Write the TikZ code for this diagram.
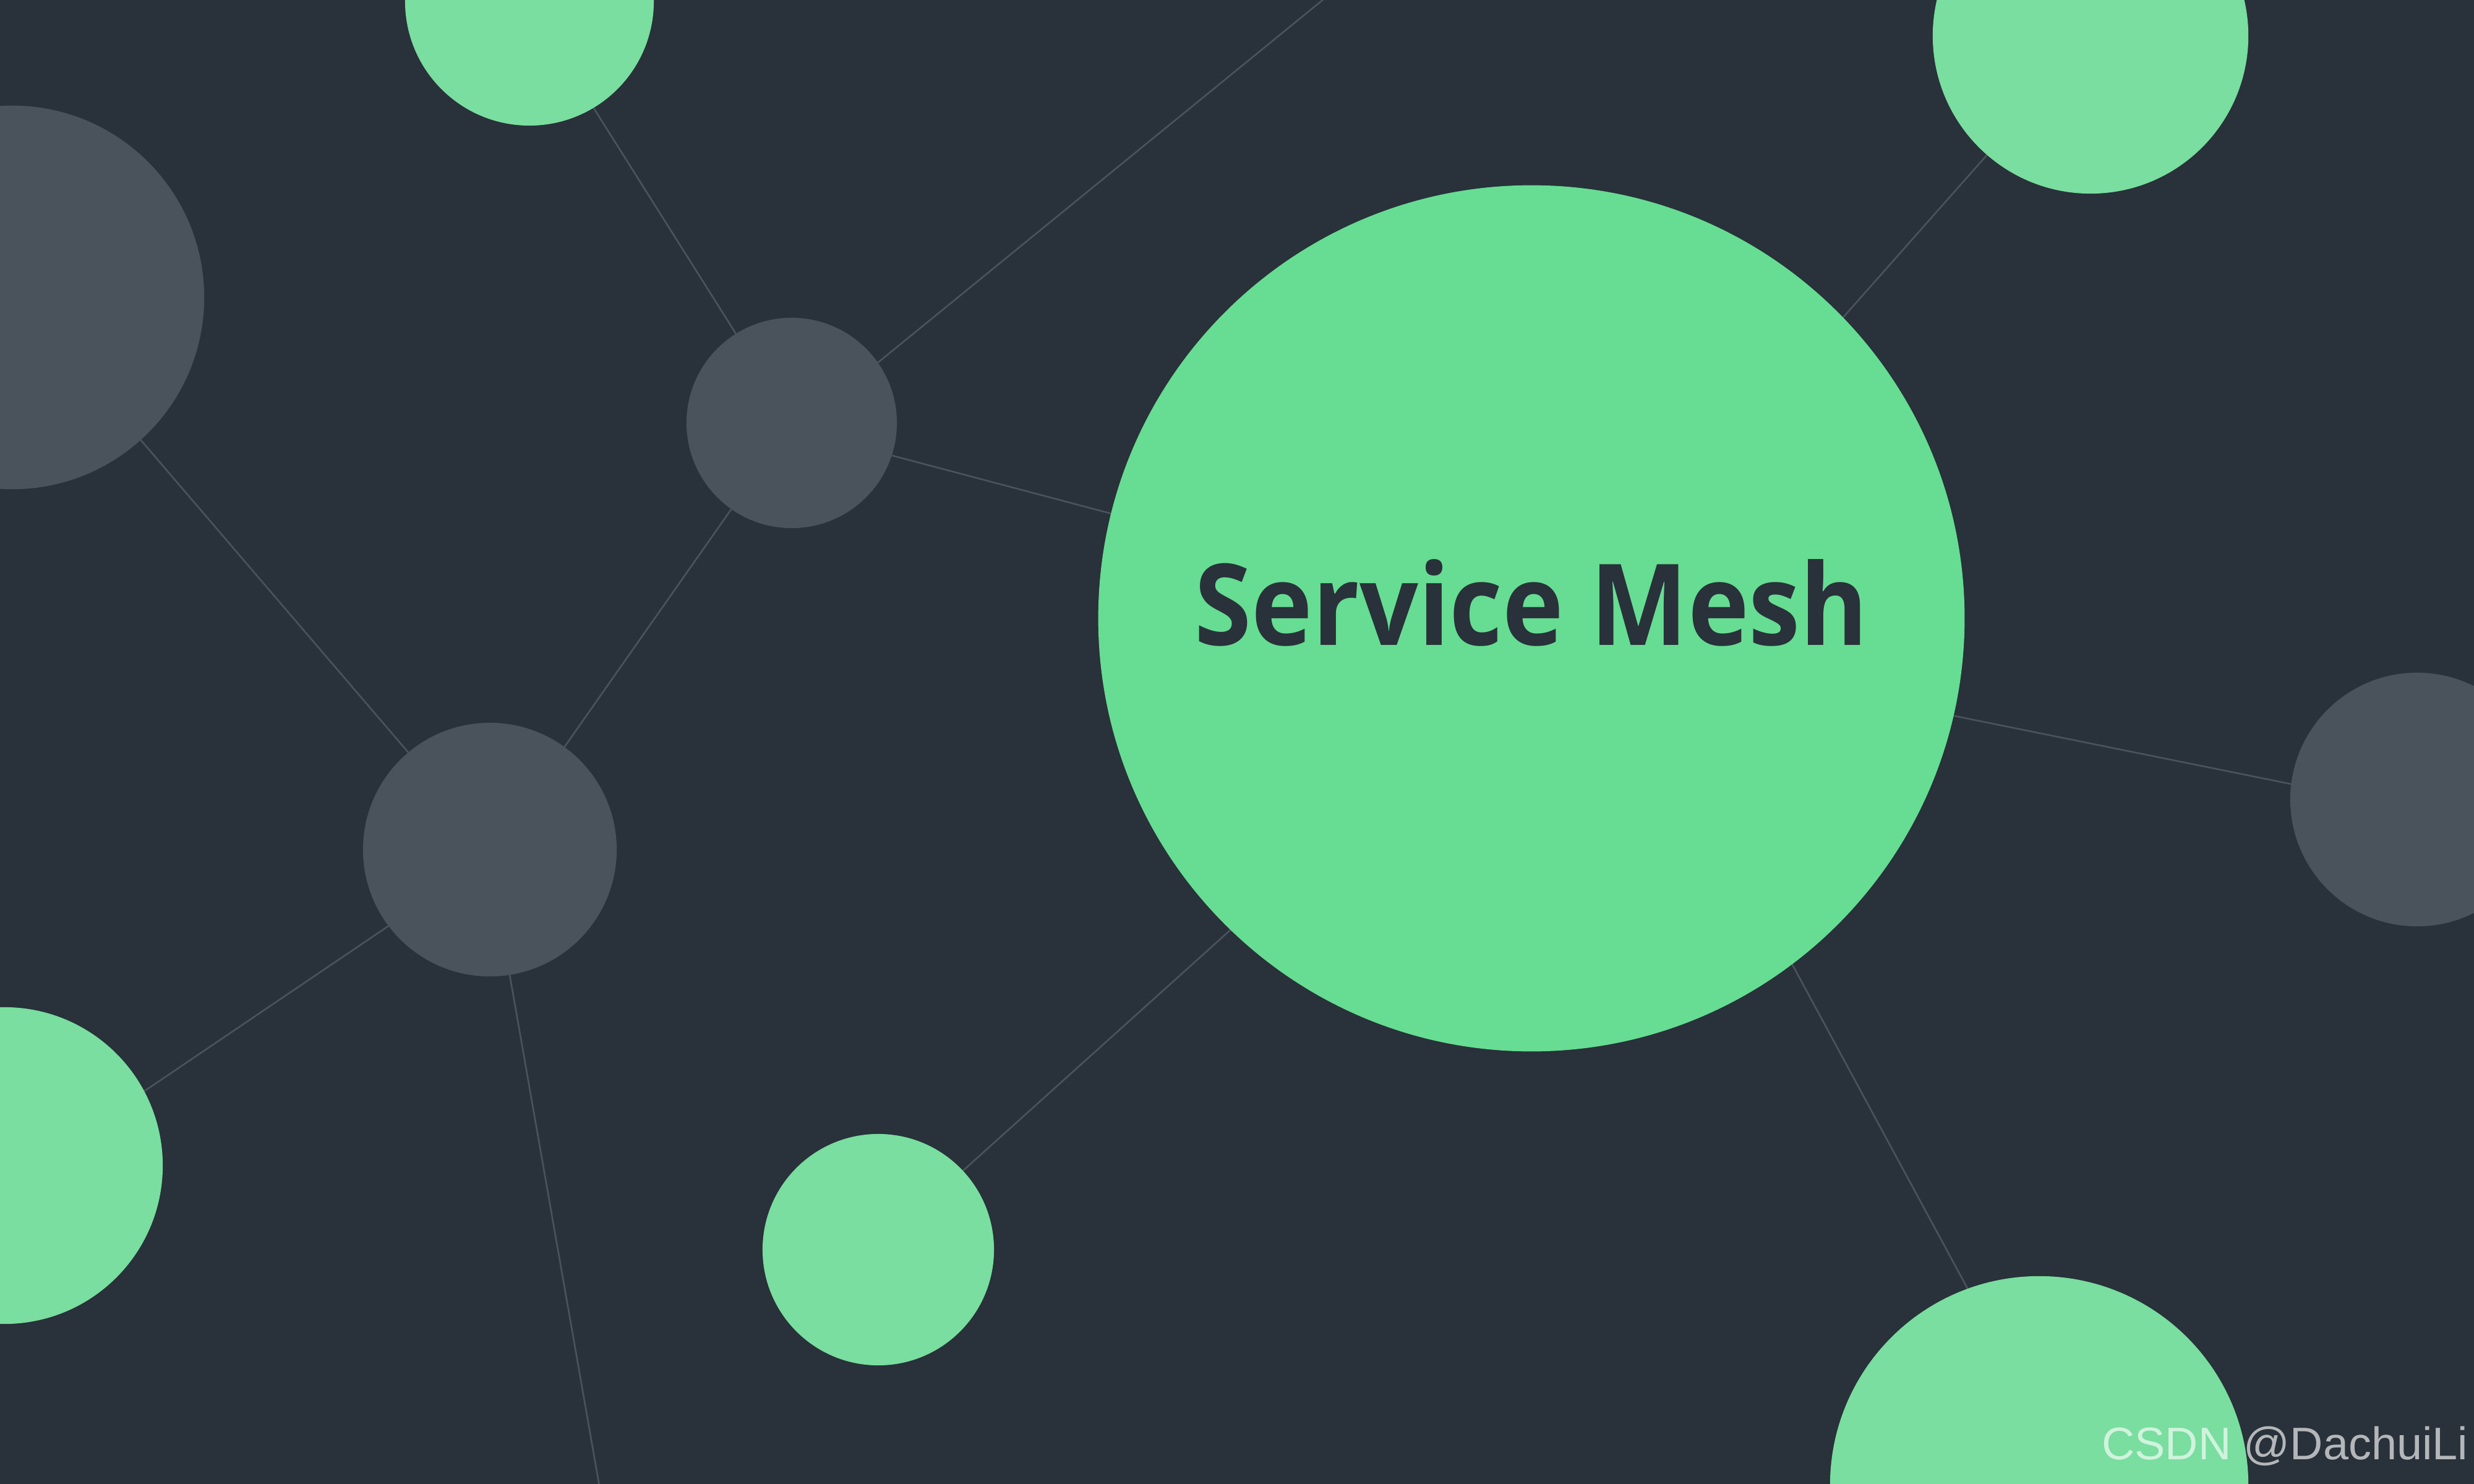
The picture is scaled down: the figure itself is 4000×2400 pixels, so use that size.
\documentclass[tikz,border=0pt]{standalone}
\usepackage{fontspec}
\setmainfont{Open Sans}
\newfontfamily\wmfont{Liberation Sans}
\definecolor{bgc}{HTML}{29313A}
\definecolor{biggreen}{HTML}{66DD92}
\definecolor{ltgreen}{HTML}{79DE9F}
\definecolor{graynode}{HTML}{4A525B}
\definecolor{linec}{HTML}{4A525C}
\pgfdeclarelayer{bglayer}
\pgfsetlayers{bglayer,main}
\tikzset{
  ball/.style={circle,inner sep=0pt,outer sep=0pt,draw=none},
  gball/.style={ball,fill=ltgreen},
  gyball/.style={ball,fill=graynode},
  link/.style={draw=linec,line width=0.75pt},
}
\begin{document}
\begin{tikzpicture}[x=0.01cm,y=-0.01cm]
\useasboundingbox (0,0) rectangle (4000,2400);
\begin{pgfonlayer}{bglayer}
\fill[bgc] (0,0) rectangle (4000,2400);
\end{pgfonlayer}
\node[ball,fill=biggreen,minimum size=14cm] (big) at (2476,1000) {};
\node[gball,minimum size=4.02cm] (tg) at (856,2) {};
\node[gyball,minimum size=6.2cm] (lg) at (20,481) {};
\node[gyball,minimum size=3.4cm] (sg) at (1280,684) {};
\node[gyball,minimum size=4.1cm] (gg) at (792,1374) {};
\node[gball,minimum size=5.12cm] (blg) at (7,1885) {};
\node[gball,minimum size=3.74cm] (bmg) at (1420,2021) {};
\node[gball,minimum size=5.1cm] (trg) at (3380,58) {};
\node[gyball,minimum size=4.1cm] (rg) at (3908,1293) {};
\node[gball,minimum size=6.76cm] (brg) at (3297,2402) {};
\coordinate (stop) at (2163,-20);
\coordinate (gbot) at (972,2420);
\begin{pgfonlayer}{bglayer}
\draw[link] (tg.-59.7) -- (sg.122.5);
\draw[link] (sg.35.8) -- (stop);
\draw[link] (sg.-18.6) -- (big.166.2);
\draw[link] (lg.-48.7) -- (gg.130.6);
\draw[link] (sg.-125) -- (gg.54.4);
\draw[link] (gg.-143.5) -- (blg.28.6);
\draw[link] (gg.-81.9) -- (gbot);
\draw[link] (bmg.43.1) -- (big.-134.7);
\draw[link] (big.44.8) -- (trg.-131.5);
\draw[link] (big.-13.7) -- (rg.173.6);
\draw[link] (big.-53.1) -- (brg.110.2);
\end{pgfonlayer}
\node[font=\bfseries\fontsize{52}{52}\selectfont,text=bgc,anchor=base,inner sep=0pt] (title) at (2476,1043) {\scalebox{0.913}[1]{Service Mesh}};
\node[font=\wmfont\fontsize{21}{21}\selectfont,text=white,text opacity=0.65,anchor=base east,inner sep=0pt] (wm) at (3991,2360) {CSDN @DachuiLi};
\end{tikzpicture}
\end{document}
